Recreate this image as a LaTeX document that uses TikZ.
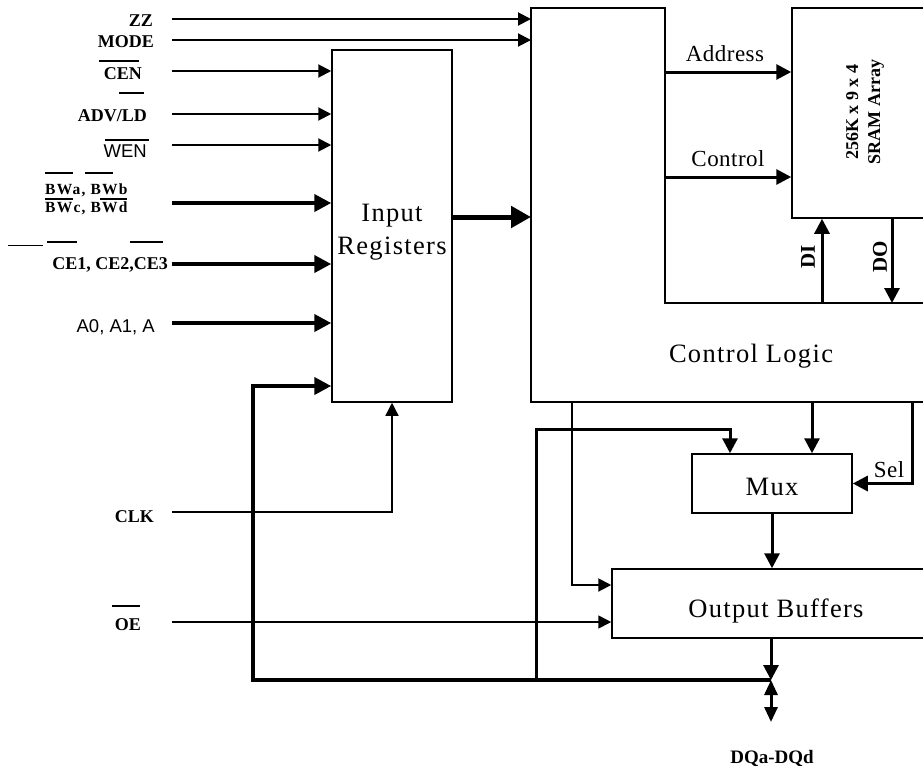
\documentclass[tikz,border=0pt]{standalone}
\usepackage{fontspec}
\setmainfont{Liberation Serif}
\newfontfamily\sansf{Liberation Sans}
\newfontfamily\boxf[LetterSpace=5]{Liberation Serif}
\newfontfamily\midf[LetterSpace=2]{Liberation Serif}
\newfontfamily\bwf[LetterSpace=8]{Liberation Serif}
\usetikzlibrary{arrows.meta}
\begin{document}
\begin{tikzpicture}[x=1pt,y=-1pt]
\tikzset{
  blk/.style={draw, line width=1.5pt, inner sep=0pt},
  lbl/.style={font=\fontsize{18}{18}\selectfont\bfseries, inner sep=0pt},
  slbl/.style={font=\sansf\fontsize{18.5}{18}\selectfont, inner sep=0pt},
  bigtxt/.style={font=\boxf\fontsize{26.5}{33}\selectfont, inner sep=0pt, align=center},
  midtxt/.style={font=\midf\fontsize{23}{23}\selectfont, inner sep=0pt},
  rottxt/.style={font=\fontsize{21}{21}\selectfont\bfseries, rotate=90, inner sep=0pt},
  wa/.style={line width=1.3pt},
  wb/.style={line width=2pt},
  wc/.style={line width=3pt},
  wd/.style={line width=4pt},
  we/.style={line width=5pt},
  tS/.style={-{Triangle[length=13pt,width=13pt]}},
  tM/.style={-{Triangle[length=15pt,width=15pt]}},
  tL/.style={-{Triangle[length=17pt,width=17pt]}},
  tX/.style={-{Triangle[length=20pt,width=21pt]}},
  ovl/.style={line width=1.8pt},
}
\useasboundingbox (0,0) rectangle (923,769);
\fill[white] (0,0) rectangle (923,769);
\clip (0,0) rectangle (923,769);

% blocks
\node[blk, minimum width=120pt, minimum height=352pt] (ir) at (392,226) {};
\node[bigtxt] (irt) at (392,232) {Input\\Registers};
\draw[line width=1.5pt] (531,8) -- (665,8) -- (665,303) -- (945,303) -- (945,402) -- (531,402) -- cycle;
\node[bigtxt, anchor=base] (clt) at (751,362) {Control Logic};
\node[blk, minimum width=146pt, minimum height=210pt] (sram) at (865,113) {};
\node[font=\fontsize{18}{22}\selectfont\bfseries, rotate=90, align=center, inner sep=0pt] (sramt) at (865,112) {256K x 9 x 4\\SRAM Array};
\node[blk, minimum width=160pt, minimum height=59pt] (mux) at (772,483.5) {};
\node[bigtxt, anchor=base] (muxt) at (772,495) {Mux};
\node[blk, minimum width=328pt, minimum height=69pt] (ob) at (776,603.5) {};
\node[bigtxt, anchor=base] (obt) at (776,617) {Output Buffers};

% labels
\node[lbl, anchor=base east] (zz) at (153,26.5) {ZZ};
\node[lbl, anchor=base east] (mode) at (154,47) {MODE};
\node[lbl, anchor=base east] (cen) at (142,79) {CEN};
\node[lbl, anchor=base east] (adv) at (147,121) {ADV/LD};
\node[slbl, anchor=base east] (wen) at (147,157) {WEN};
\node[font=\bwf\fontsize{15.5}{17.5}\selectfont\bfseries, inner sep=0pt, anchor=north west, align=left] (bw) at (45,184) {BWa, BWb\\BWc, BWd};
\node[lbl, anchor=base east] (ce) at (168,269) {CE1, CE2,CE3};
\node[slbl, anchor=base east] (a0) at (155,332) {A0, A1, A};
\node[lbl, anchor=base east] (clk) at (154,522) {CLK};
\node[lbl, anchor=base east] (oe) at (141,630) {OE};
\node[font=\fontsize{19}{19}\selectfont\bfseries, inner sep=0pt, anchor=base] (dqt) at (772,763) {DQa-DQd};
\node[midtxt, anchor=base] (addr) at (725,61) {Address};
\node[midtxt, anchor=base] (ctrl) at (728,166) {Control};
\node[midtxt, anchor=base] (sel) at (889,477) {Sel};
\node[rottxt] (di) at (808,257) {DI};
\node[rottxt] (do) at (880,257) {DO};

% overbars
\draw[ovl] (99,61) -- (139,61);
\draw[ovl] (119,93) -- (144,93);
\draw[ovl] (105,140) -- (149,140);
\draw[ovl] (45,173) -- (73,173);
\draw[ovl] (85,173) -- (113,173);
\draw[ovl] (45,199) -- (73,199);
\draw[ovl] (100,199) -- (127,199);
\draw[line width=1.3pt] (8,245.5) -- (43,245.5);
\draw[ovl] (47,242) -- (77,242);
\draw[ovl] (130,242) -- (163,242);
\draw[ovl] (112,606) -- (140,606);

% coordinates
\coordinate (clw) at (531,0);
\coordinate (cli) at (665,0);
\coordinate (zzs) at (172,19);
\coordinate (mds) at (172,40);
\coordinate (cens) at (172,71);
\coordinate (advs) at (172,114);
\coordinate (wens) at (172,145);
\coordinate (bws) at (172,203);
\coordinate (ces) at (172,264);
\coordinate (as) at (172,323);
\coordinate (clks) at (172,512);
\coordinate (oes) at (172,622);
\coordinate (y217) at (0,217);
\coordinate (y72) at (0,72);
\coordinate (y177) at (0,177);
\coordinate (y585) at (0,585);
\coordinate (jn) at (771,680);
\coordinate (dq) at (771,722);
\coordinate (fbx) at (253,386);
\coordinate (mx) at (536,680);
\coordinate (mxt) at (536,429);
\coordinate (m730) at (730,0);
\coordinate (c572) at (572,402);
\coordinate (c812) at (812,402);
\coordinate (c912) at (912,402);
\coordinate (c822) at (822,303);
\coordinate (c892) at (892,303);

% input connectors
\draw[wb,tS] (zzs) -- (zzs -| clw);
\draw[wb,tS] (mds) -- (mds -| clw);
\draw[wb,tS] (cens) -- (cens -| ir.west);
\draw[wb,tS] (advs) -- (advs -| ir.west);
\draw[wb,tS] (wens) -- (wens -| ir.west);
\draw[wd,tL] (bws) -- (bws -| ir.west);
\draw[wd,tL] (ces) -- (ces -| ir.west);
\draw[wd,tL] (as) -- (as -| ir.west);
\draw[wa,tS] (clks) -| (ir.south);
\draw[line width=1.6pt,tS] (oes) -- (oes -| ob.west);
\draw[we,tX] (ir.east |- y217) -- (clw |- y217);

% bus feedback
\draw[wd,tL] (jn) -- (jn -| fbx) -- (fbx) -- (fbx -| ir.west);
\draw[wc,tM] (mx) -- (mxt) -| (mux.north -| m730);

% control logic outputs
\draw[wc,tM] (cli |- y72) -- (sram.west |- y72);
\draw[wc,tM] (cli |- y177) -- (sram.west |- y177);
\draw[wc,tM] (c822) -- (c822 |- sram.south);
\draw[wc,tM] (sram.south -| c892) -- (c892);
\draw[wb,tS] (c572) |- (ob.west |- y585);
\draw[wc,tM] (c812) -- (c812 |- mux.north);
\draw[wc,tM] (c912) |- (mux.east);
\draw[wc,tM] (mux.south) -- (mux.south |- ob.north);
\draw[wc,tM] (ob.south -| jn) -- (jn);
\draw[wc,{Triangle[length=15pt,width=13pt]}-{Triangle[length=15pt,width=13pt]}] (jn) -- (dq);
\end{tikzpicture}
\end{document}
